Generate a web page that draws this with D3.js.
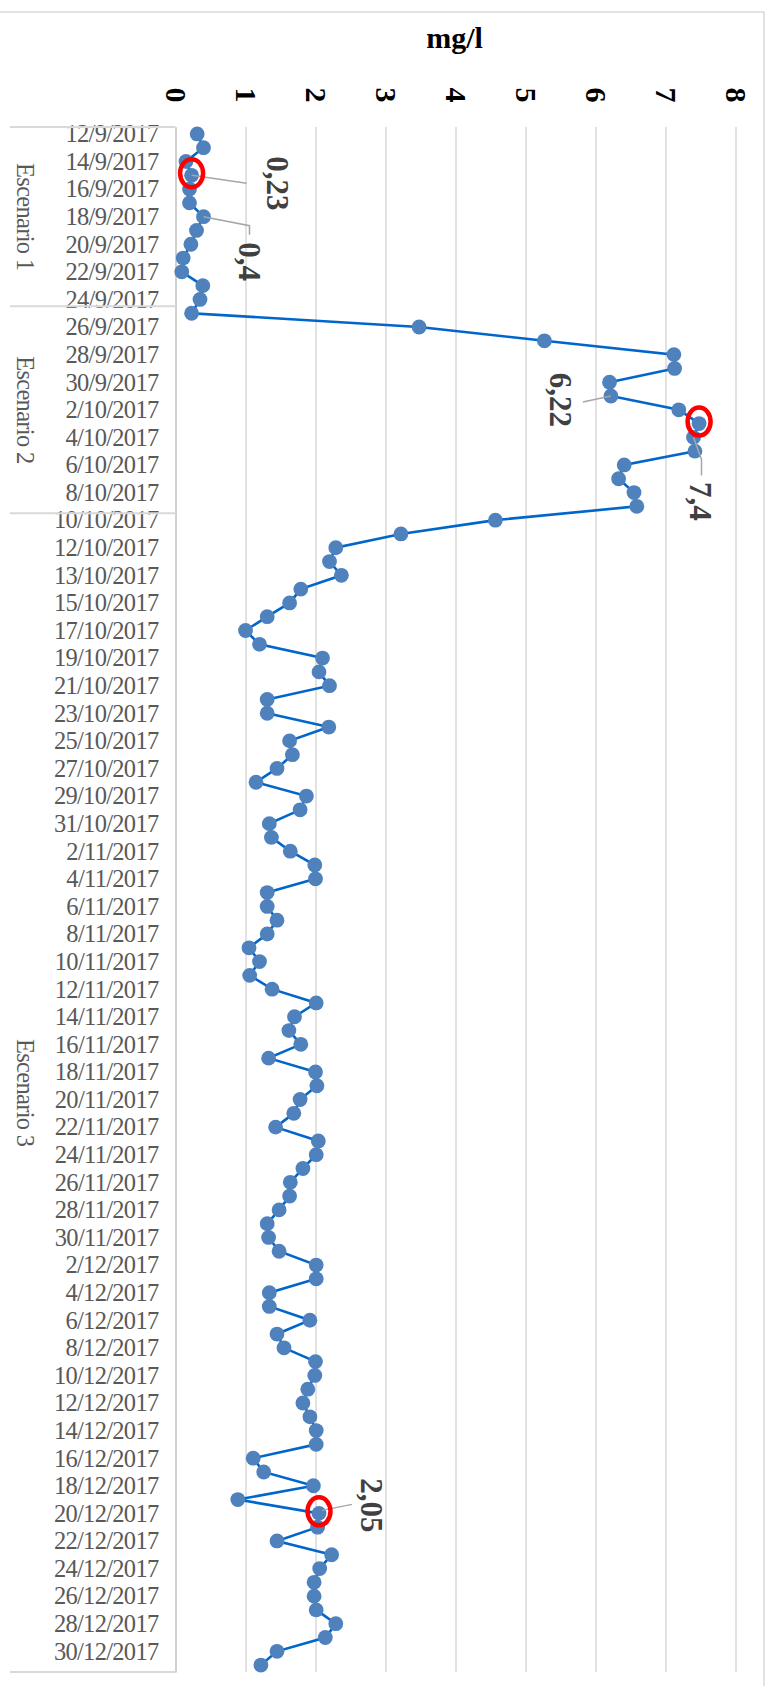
<!DOCTYPE html>
<html>
<head>
<meta charset="utf-8">
<script src="https://cdn.jsdelivr.net/npm/d3@7"></script>
<style>
  html, body { margin: 0; padding: 0; background: #fff; }
  svg { display: block; }
</style>
</head>
<body>
<svg width="771" height="1686"></svg>
<script>
// sampling dates (12/10 was sampled twice)
var categories = [
  '12/9/2017','13/9/2017','14/9/2017','15/9/2017','16/9/2017','17/9/2017','18/9/2017',
  '19/9/2017','20/9/2017','21/9/2017','22/9/2017','23/9/2017','24/9/2017','25/9/2017',
  '26/9/2017','27/9/2017','28/9/2017','29/9/2017','30/9/2017','1/10/2017','2/10/2017',
  '3/10/2017','4/10/2017','5/10/2017','6/10/2017','7/10/2017','8/10/2017','9/10/2017',
  '10/10/2017','11/10/2017','12/10/2017','12/10/2017','13/10/2017','14/10/2017','15/10/2017',
  '16/10/2017','17/10/2017','18/10/2017','19/10/2017','20/10/2017','21/10/2017','22/10/2017',
  '23/10/2017','24/10/2017','25/10/2017','26/10/2017','27/10/2017','28/10/2017','29/10/2017',
  '30/10/2017','31/10/2017','1/11/2017','2/11/2017','3/11/2017','4/11/2017','5/11/2017',
  '6/11/2017','7/11/2017','8/11/2017','9/11/2017','10/11/2017','11/11/2017','12/11/2017',
  '13/11/2017','14/11/2017','15/11/2017','16/11/2017','17/11/2017','18/11/2017','19/11/2017',
  '20/11/2017','21/11/2017','22/11/2017','23/11/2017','24/11/2017','25/11/2017','26/11/2017',
  '27/11/2017','28/11/2017','29/11/2017','30/11/2017','1/12/2017','2/12/2017','3/12/2017',
  '4/12/2017','5/12/2017','6/12/2017','7/12/2017','8/12/2017','9/12/2017','10/12/2017',
  '11/12/2017','12/12/2017','13/12/2017','14/12/2017','15/12/2017','16/12/2017','17/12/2017',
  '18/12/2017','19/12/2017','20/12/2017','21/12/2017','22/12/2017','23/12/2017','24/12/2017',
  '25/12/2017','26/12/2017','27/12/2017','28/12/2017','29/12/2017','30/12/2017','31/12/2017'
];

// mg/l
var values = [
  0.31, 0.40, 0.15, 0.23, 0.20, 0.20, 0.40, 0.30, 0.22, 0.11, 0.09, 0.39, 0.35, 0.23,
  3.48, 5.27, 7.12, 7.13, 6.20, 6.22, 7.19, 7.48, 7.40, 7.42, 6.41, 6.33, 6.55, 6.59,
  4.57, 3.22, 2.29, 2.20, 2.37, 1.79, 1.63, 1.31, 1.00, 1.20, 2.10, 2.05, 2.20, 1.31,
  1.31, 2.19, 1.63, 1.67, 1.45, 1.15, 1.87, 1.78, 1.34, 1.37, 1.64, 1.99, 2.00, 1.31,
  1.31, 1.45, 1.31, 1.05, 1.20, 1.06, 1.38, 2.01, 1.70, 1.62, 1.79, 1.33, 2.00, 2.02,
  1.78, 1.69, 1.43, 2.04, 2.01, 1.82, 1.64, 1.63, 1.48, 1.31, 1.33, 1.48, 2.01, 2.01,
  1.34, 1.34, 1.92, 1.45, 1.55, 2.00, 1.99, 1.89, 1.82, 1.92, 2.01, 2.01, 1.11, 1.26,
  1.97, 0.89, 2.05, 2.03, 1.45, 2.23, 2.06, 1.98, 1.98, 2.01, 2.29, 2.14, 1.45, 1.22
];

var scenarioNames = ['Escenario 1', 'Escenario 2', 'Escenario 3'];
var scenarioCounts = [13, 15, 84];

var valueTicks = [0, 1, 2, 3, 4, 5, 6, 7, 8];

var labelIdx = [3, 6, 19, 22, 100];
var labelText = ['0,23', '0,4', '6,22', '7,4', '2,05'];
var circledIdx = [3, 21, 100];

var svg = d3.select('svg');
var top_ = 127, bottom = 1672, left = 175.5, right = 735.5;
var serif = '"Liberation Serif", "Times New Roman", serif';

var x = d3.scaleLinear().domain([0, 8]).range([left, right]);
var y = d3.scaleBand().domain(d3.range(categories.length)).range([top_, bottom]);
var cy = i => y(i) + y.bandwidth() / 2;

// chart area border
svg.append('rect')
    .attr('x', -2).attr('y', 12)
    .attr('width', 766).attr('height', 1700)
    .attr('fill', '#fff')
    .attr('stroke', '#d9d9d9')
    .attr('stroke-width', 1.5);

// gridlines
svg.append('g')
    .attr('transform', `translate(0,${top_})`)
    .call(d3.axisTop(x).tickValues(valueTicks).tickSize(-(bottom - top_)).tickFormat(''))
    .call(g => g.select('.domain').remove())
    .selectAll('line')
    .attr('stroke', '#d9d9d9')
    .attr('stroke-width', 1.5);

// value axis labels (rotated)
svg.append('g')
    .attr('transform', 'translate(0,95)')
    .call(d3.axisTop(x).tickValues(valueTicks).tickSize(0).tickPadding(0))
    .call(g => g.select('.domain').remove())
    .selectAll('text')
    .attr('y', 0)
    .attr('dy', '0.34em')
    .attr('transform', 'rotate(90)')
    .attr('text-anchor', 'middle')
    .attr('font-family', serif)
    .attr('font-weight', 'bold')
    .attr('font-size', 30)
    .attr('fill', '#000');

// title
svg.append('text')
    .attr('x', (left + right) / 2 - 1)
    .attr('y', 48)
    .attr('text-anchor', 'middle')
    .attr('font-family', serif)
    .attr('font-weight', 'bold')
    .attr('font-size', 30)
    .text('mg/l');

// category axis
var catAxis = svg.append('g')
    .attr('transform', `translate(${left},0)`)
    .call(d3.axisLeft(y)
        .tickValues(d3.range(0, categories.length, 2))
        .tickFormat(i => categories[i])
        .tickSize(0)
        .tickPadding(17));
catAxis.select('.domain')
    .attr('stroke', '#d0d0d0')
    .attr('stroke-width', 2);
catAxis.selectAll('text')
    .attr('font-family', serif)
    .attr('font-size', 24.5)
    .attr('letter-spacing', -0.7)
    .attr('fill', '#595959')
    .attr('dy', '0.34em');

// scenario groups
var starts = d3.cumsum([0].concat(scenarioCounts));
var bounds = Array.from(starts).map(s => s < categories.length ? y(s) : bottom);
svg.append('g').selectAll('line')
    .data(bounds)
    .join('line')
    .attr('x1', 10).attr('x2', left)
    .attr('y1', d => d).attr('y2', d => d)
    .attr('stroke', '#d9d9d9')
    .attr('stroke-width', 2);

svg.append('g').selectAll('text')
    .data(scenarioNames)
    .join('text')
    .attr('transform', (d, k) => `translate(25,${(bounds[k] + bounds[k + 1]) / 2}) rotate(90)`)
    .attr('text-anchor', 'middle')
    .attr('dy', '0.34em')
    .attr('font-family', serif)
    .attr('font-size', 24.5)
    .attr('letter-spacing', -0.7)
    .attr('fill', '#595959')
    .text(d => d);

// series line + markers
var line = d3.line()
    .x(d => x(d))
    .y((d, i) => cy(i));

svg.append('path')
    .datum(values)
    .attr('d', line)
    .attr('fill', 'none')
    .attr('stroke', '#0066cc')
    .attr('stroke-width', 2.6);

svg.append('g').selectAll('circle')
    .data(values)
    .join('circle')
    .attr('cx', d => x(d))
    .attr('cy', (d, i) => cy(i))
    .attr('r', 7.4)
    .attr('fill', '#4f81bd');

// data labels with leader lines (offsets from the point)
var labelLayout = [
    { dx: 86, dy: 8, leader: [[0, 0], [55, 8]] },
    { dx: 46, dy: 45, leader: [[0, 0], [46, 9], [46, 18]] },
    { dx: -50, dy: 4, leader: [[0, 0], [-28, 6]] },
    { dx: 7, dy: 64, leader: [[0, 0], [8, 22], [8, 38]] },
    { dx: 53, dy: -8, leader: [[3, -3], [33, -9]] }
];

var lbl = svg.append('g');
labelIdx.forEach((idx, k) => {
    var px = x(values[idx]), py = cy(idx), L = labelLayout[k];
    lbl.append('path')
        .attr('d', d3.line()(L.leader.map(p => [px + p[0], py + p[1]])))
        .attr('fill', 'none')
        .attr('stroke', '#a6a6a6')
        .attr('stroke-width', 1.5);
    lbl.append('text')
        .attr('transform', `translate(${px + L.dx},${py + L.dy}) rotate(90)`)
        .attr('text-anchor', 'middle')
        .attr('dy', '0.34em')
        .attr('font-family', serif)
        .attr('font-weight', 'bold')
        .attr('font-size', 31)
        .attr('fill', '#404040')
        .text(labelText[k]);
});

// highlighted points
svg.append('g').selectAll('ellipse')
    .data(circledIdx)
    .join('ellipse')
    .attr('cx', i => x(values[i]))
    .attr('cy', i => cy(i) - 2)
    .attr('rx', 11.5)
    .attr('ry', 14)
    .attr('fill', 'none')
    .attr('stroke', '#ff0000')
    .attr('stroke-width', 4.5);
</script>
</body>
</html>
